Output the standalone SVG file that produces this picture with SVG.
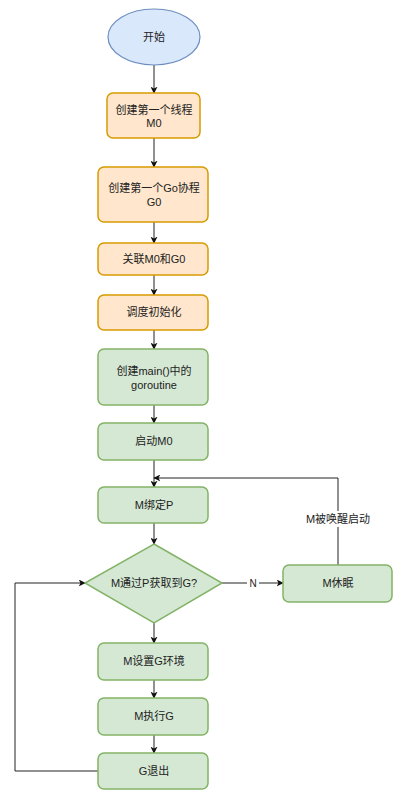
<svg xmlns="http://www.w3.org/2000/svg" width="403" height="800" viewBox="0 0 403 800">
<defs>
<style>
text{font-family:"Liberation Sans","Noto Sans CJK SC",sans-serif;font-size:11px;fill:#222;text-anchor:middle;dominant-baseline:central}
.o{fill:#ffe6cc;stroke:#d79b00;stroke-width:1.5}
.g{fill:#d5e8d4;stroke:#82b366;stroke-width:1.5}
.b{fill:#dae8fc;stroke:#6c8ebf;stroke-width:1.2}
.c{fill:none;stroke:#222;stroke-width:1}
</style>
<marker id="a" viewBox="0 0 10 10" refX="9" refY="5" markerWidth="7" markerHeight="7" orient="auto" markerUnits="userSpaceOnUse"><path d="M0,0 L10,5 L0,10 L2.5,5 Z" fill="#111"/></marker>
</defs>
<rect width="403" height="800" fill="#fff"/>
<g id="connectors">
<path class="c" d="M154,65 V93" marker-end="url(#a)"/>
<path class="c" d="M154,138 V167" marker-end="url(#a)"/>
<path class="c" d="M154,222 V243" marker-end="url(#a)"/>
<path class="c" d="M154,275 V295" marker-end="url(#a)"/>
<path class="c" d="M154,330 V349" marker-end="url(#a)"/>
<path class="c" d="M154,405 V423" marker-end="url(#a)"/>
<path class="c" d="M154,460 V487" marker-end="url(#a)"/>
<path class="c" d="M154,523 V544" marker-end="url(#a)"/>
<path class="c" d="M154,623 V643" marker-end="url(#a)"/>
<path class="c" d="M154,680 V698" marker-end="url(#a)"/>
<path class="c" d="M154,735 V753" marker-end="url(#a)"/>
<path class="c" d="M222,583 H283" marker-end="url(#a)"/>
<rect x="247" y="577" width="12" height="12" fill="#fff"/>
<text x="253" y="583" style="font-size:10px">N</text>
<path class="c" d="M338,565 V478 H154" marker-end="url(#a)"/>
<rect x="302" y="511" width="72" height="16" fill="#fff"/>
<text x="338" y="519">M被唤醒启动</text>
<path class="c" d="M98,771 H15 V583 H85" marker-end="url(#a)"/>
</g>
<g id="start"><ellipse class="b" cx="154" cy="37" rx="46" ry="28"/><text x="154" y="37">开始</text></g>
<g id="n1"><rect class="o" x="107" y="93" width="93" height="45" rx="6"/><text x="154" y="110">创建第一个线程</text><text x="154" y="123">M0</text></g>
<g id="n2"><rect class="o" x="98" y="167" width="110" height="55" rx="6"/><text x="154" y="188">创建第一个Go协程</text><text x="154" y="202">G0</text></g>
<g id="n3"><rect class="o" x="98" y="243" width="110" height="32" rx="6"/><text x="154" y="259">关联M0和G0</text></g>
<g id="n4"><rect class="o" x="98" y="295" width="110" height="35" rx="6"/><text x="154" y="312">调度初始化</text></g>
<g id="n5"><rect class="g" x="98" y="349" width="110" height="56" rx="6"/><text x="154" y="371">创建main()中的</text><text x="154" y="385">goroutine</text></g>
<g id="n6"><rect class="g" x="98" y="423" width="110" height="37" rx="6"/><text x="154" y="441">启动M0</text></g>
<g id="n7"><rect class="g" x="98" y="487" width="110" height="36" rx="6"/><text x="154" y="505">M绑定P</text></g>
<g id="d1"><path class="g" d="M154,544 L222,583 L154,623 L85,583 Z"/><text x="154" y="583">M通过P获取到G?</text></g>
<g id="n8"><rect class="g" x="283" y="565" width="109" height="37" rx="6"/><text x="338" y="583">M休眠</text></g>
<g id="n9"><rect class="g" x="98" y="643" width="110" height="37" rx="6"/><text x="154" y="661">M设置G环境</text></g>
<g id="n10"><rect class="g" x="98" y="698" width="110" height="37" rx="6"/><text x="154" y="716">M执行G</text></g>
<g id="n11"><rect class="g" x="98" y="753" width="110" height="36" rx="6"/><text x="154" y="771">G退出</text></g>
</svg>
